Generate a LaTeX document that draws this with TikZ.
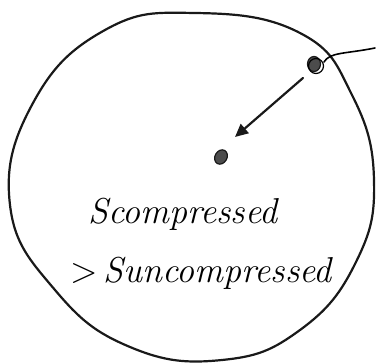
\documentclass[tikz,border=0pt]{standalone}
\usetikzlibrary{arrows.meta,shapes.geometric}
\begin{document}
\begin{tikzpicture}[x=1pt,y=-1pt,
  ink/.style={line width=2.2pt,line cap=round,line join=round,draw=black!90},
  blob/.style={fill=black!70,draw=black!90,line width=1.2pt},
  hand/.style={font=\fontsize{36}{40}\selectfont\itshape,inner sep=0pt}]
\useasboundingbox (0,0) rectangle (378,363);
% boundary circle (hand drawn)
\draw[ink] plot[smooth cycle,tension=0.75] coordinates{
 (195,13) (300,33) (352,95) (374,180) (356,262) (300,330) (222,360)
 (130,347) (55,290) (10,205) (33,103) (105,30)};
% point on boundary
\node[blob,ellipse,minimum width=13pt,minimum height=15pt,inner sep=0pt] (p) at (314,64) {};
\draw[line width=1.2pt] (p) ++(2,2) circle[radius=7.5];
\coordinate (out) at (375,48);
\draw[line width=1.6pt,line cap=round] (324,62) .. controls (330,52) and (345,54) .. (out);
% center point
\node[blob,ellipse,minimum width=12pt,minimum height=15pt,inner sep=0pt,rotate=-30] (c) at (221,157) {};
\coordinate (a1) at (303,78);
\coordinate (a2) at (235,137);
\draw[ink,-{Triangle[length=13pt,width=12pt]}] (a1) -- (a2);
% text
\node[hand,anchor=base west] (t1) at (88,224) {Scompressed};
\node[hand,anchor=base west] (t2) at (70,283) {{\upshape\textgreater}\,Suncompressed};
\end{tikzpicture}
\end{document}
